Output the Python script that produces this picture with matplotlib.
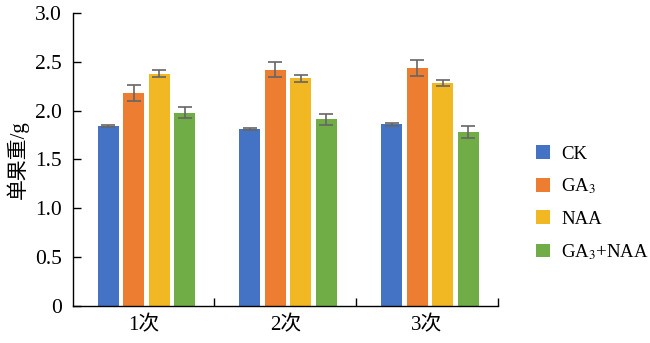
import numpy as np
import matplotlib.pyplot as plt

plt.rcParams['font.family'] = ['Liberation Serif', 'Noto Sans CJK SC']
plt.rcParams['mathtext.fontset'] = 'stix'

# data
groups = ['1次', '2次', '3次']
series = ['CK', r'GA$_3$', 'NAA', r'GA$_3$+NAA']
values = [
    [1.84, 1.81, 1.86],   # CK
    [2.18, 2.42, 2.44],   # GA3
    [2.38, 2.33, 2.28],   # NAA
    [1.98, 1.91, 1.78],   # GA3+NAA
]
errors = [
    [0.01, 0.01, 0.015],
    [0.08, 0.08, 0.08],
    [0.035, 0.035, 0.03],
    [0.06, 0.06, 0.06],
]
colors = ['#4472C4', '#ED7D31', '#F2B824', '#70AD47']

fig = plt.figure(figsize=(6.5, 3.43), dpi=100)
ax = fig.add_axes([0.112, 0.108, 0.654, 0.854])

x = np.arange(len(groups))
step = 0.18
width = 0.148
for i in range(len(series)):
    pos = x + (i - 1.5) * step + 0.02
    ax.bar(pos, values[i], width, color=colors[i], label=series[i], zorder=2)
    ax.errorbar(pos, values[i], yerr=errors[i], fmt='none', ecolor='#666666',
                elinewidth=1.2, capsize=5, capthick=1.2, zorder=3)

ax.set_xlim(-0.5, 2.5)
ax.set_ylim(0, 3.0)
ax.set_yticks([0, 0.5, 1.0, 1.5, 2.0, 2.5, 3.0])
ax.set_yticklabels(['0', '0.5', '1.0', '1.5', '2.0', '2.5', '3.0'])
ax.set_xticks(x)
ax.set_xticklabels(groups)
ax.set_xticks([0.5, 1.5, 2.5], minor=True)
ax.tick_params(axis='x', which='major', length=0, labelsize=15, pad=7)
ax.tick_params(axis='x', which='minor', direction='in', length=6, width=1)
ax.tick_params(axis='y', direction='in', length=6, width=1, labelsize=15.5, pad=8)
ax.set_ylabel('单果重/g', fontsize=15, labelpad=4)

for s in ['top', 'right']:
    ax.spines[s].set_visible(False)
for s in ['left', 'bottom']:
    ax.spines[s].set_linewidth(1)

ax.legend(loc='center left', bbox_to_anchor=(1.05, 0.35), frameon=False,
          fontsize=13.5, handlelength=0.75, handleheight=0.75, labelspacing=0.75,
          handletextpad=0.6)

plt.savefig('out.png', dpi=100)
